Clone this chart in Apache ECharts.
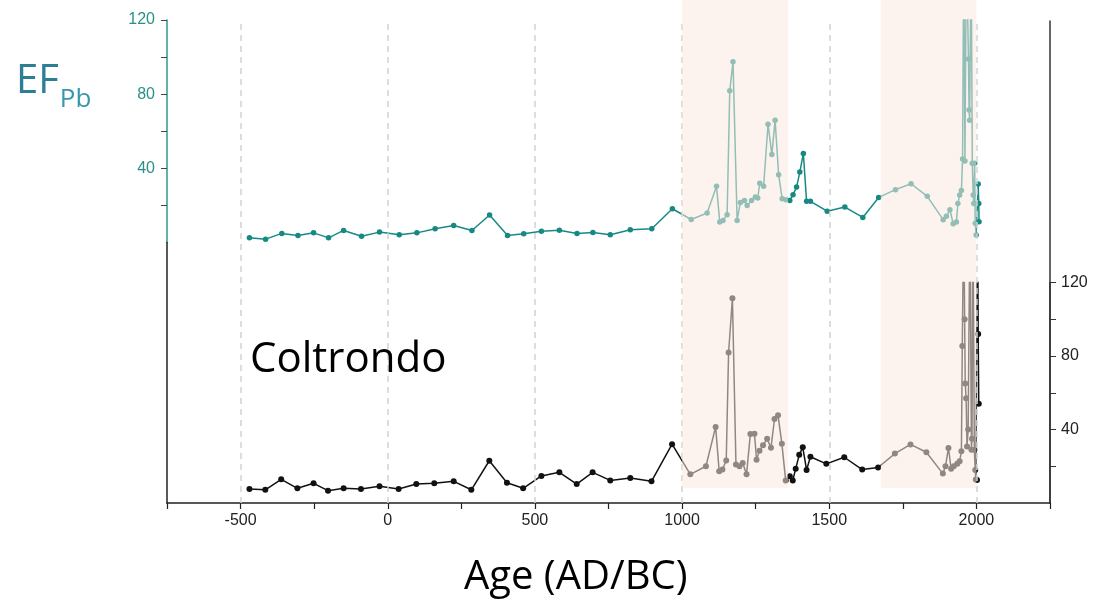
<!DOCTYPE html>
<html style="height: 100%">
<head>
    <meta charset="utf-8">
</head>
<body style="height: 100%; margin: 0; background: #fff">
<div id="container" style="width: 1095px; height: 599px"></div>

<script type="text/javascript" src="https://cdn.jsdelivr.net/npm/echarts@6/dist/echarts.min.js"></script>
<script type="text/javascript">
    // EF(Pb) upper panel (teal), years AD/BC
    var tealYears = [-470, -415, -360, -305, -252, -201, -150, -89, -28, 39, 99, 161, 224, 286, 346, 407, 462, 522, 583, 643,
        697, 756, 824, 897, 967, 1031, 1085, 1117, 1128, 1139, 1153, 1162, 1173, 1187, 1198, 1212, 1221, 1236, 1249, 1257,
        1264, 1277, 1292, 1305, 1316, 1328, 1340, 1353, 1366, 1377, 1389, 1400, 1412, 1423, 1436, 1493, 1553, 1614, 1668,
        1725, 1778, 1833, 1887, 1898, 1910, 1921, 1932, 1937, 1943, 1949, 1953, 1957, 1961, 1966, 1973, 1975, 1977, 1982,
        1986, 1989, 1991, 1994, 1996, 1999, 2006, 2008, 2009];
    var tealValues = [2.5, 1.8, 4.9, 3.8, 5.2, 2.5, 6.5, 3.4, 5.6, 4.2, 5.2, 7.4, 9.2, 6.5, 14.8, 3.8, 4.7, 6.1, 6.6, 4.9,
        5.4, 4.2, 6.9, 7.4, 18.2, 12.4, 15.9, 30.3, 11, 11.9, 15, 81.8, 97.5, 11.9, 21.6, 22.7, 20, 22.7, 24.5, 24,
        32, 30.3, 63.8, 47.4, 66, 36.6, 23.6, 23.1, 22.7, 25.8, 29.9, 38, 48, 22.2, 22.2, 16.9, 19.1, 13.5, 24.3,
        28.5, 31.7, 24.9, 12.3, 14.1, 17.7, 10.1, 11, 21, 25.6, 28, 45, 160, 44, 160, 99, 71.5, 66, 160,
        42.7, 25.6, 21, 42.7, 10.4, 4, 31.6, 21, 11.2];

    // lower panel (black)
    var blackYears = [-470, -416, -362, -307, -252, -203, -150, -91, -28, 37, 97, 158, 224, 284, 345, 405, 460, 522, 583, 642,
        696, 756, 824, 896, 966, 1028, 1081, 1114, 1126, 1137, 1150, 1158, 1171, 1183, 1195, 1206, 1219, 1232, 1246, 1253,
        1263, 1275, 1289, 1302, 1314, 1326, 1339, 1352, 1366, 1376, 1386, 1398, 1410, 1423, 1436, 1490, 1551, 1612, 1666,
        1723, 1776, 1830, 1886, 1895, 1905, 1914, 1923, 1935, 1943, 1949, 1952, 1957, 1960, 1962, 1965, 1968, 1972, 1978,
        1983, 1985, 1988, 1993, 1996, 1998, 2002, 2004, 2006, 2008];
    var blackValues = [7.6, 7.2, 12.9, 8, 10.7, 6.7, 8, 7.6, 9.1, 7.6, 10.3, 10.7, 11.8, 7.2, 23, 11, 8, 14.7, 16.7, 10.3,
        16.7, 12.3, 13.6, 11.8, 32, 15.6, 20, 41.4, 17.3, 18.2, 23.1, 81.9, 111.4, 20.9, 20, 21.8, 15.6, 37.6, 37.7, 23.6,
        28.5, 31.4, 34.9, 30.1, 45.7, 47.7, 32.3, 12.2, 14.5, 12.2, 18.7, 26.2, 30.3, 18, 25.2, 21.3, 24.9, 18.2, 19.3,
        26.9, 31.9, 27.6, 16, 20, 30, 18.6, 20, 21.3, 22.7, 28.1, 85.5, 160, 100, 65, 57, 30.8, 40, 160,
        29, 35, 160, 29, 18, 12.8, 12.5, 160, 92, 54];

    var shadedPeriods = [[1000, 1360], [1675, 2000]];
    var gridYears = [-500, 0, 500, 1000, 1500, 2000];
    var yTicks = [20, 40, 60, 80, 100, 120];
    var yLabels = [40, 80, 120];

    var teal = '#168a82';
    var dom = document.getElementById('container');
    var myChart = echarts.init(dom);

    function pairs(xs, ys) {
        return xs.map(function (x, i) { return [x, ys[i]]; });
    }

    function hiddenX(gridIndex) {
        return { type: 'value', gridIndex: gridIndex, min: -750, max: 2250, show: false };
    }

    function lineOnlyY(gridIndex, position, color) {
        return {
            type: 'value', gridIndex: gridIndex, min: 0, max: 1, position: position,
            axisLine: { show: true, onZero: false, lineStyle: { color: color, width: 1.5 } },
            axisTick: { show: false }, axisLabel: { show: false }, splitLine: { show: false }
        };
    }

    var option = {
        animation: false,
        backgroundColor: '#fff',
        title: [
            {
                text: '{a|EF}{b|Pb}',
                left: 11, top: 45,
                textStyle: {
                    rich: {
                        a: { fontFamily: 'Open Sans', fontWeight: 'normal', fontSize: 40, color: '#2e7f96' },
                        b: { fontFamily: 'Open Sans', fontWeight: 'normal', fontSize: 26, color: '#3896ad', padding: [37, 0, 0, 1] }
                    }
                }
            },
            {
                text: 'Coltrondo',
                left: 245, top: 334,
                textStyle: { fontFamily: 'Open Sans', fontSize: 42, fontWeight: 'normal', color: '#000' }
            },
            {
                text: 'Age (AD/BC)',
                left: 459, top: 553,
                textStyle: { fontFamily: 'Open Sans', fontSize: 40, fontWeight: 'normal', color: '#000' }
            }
        ],
        grid: [
            { left: 167, right: 45, top: 20, height: 222.5 },
            { left: 167, right: 45, top: 282.5, bottom: 96 },
            { left: 167, right: 45, top: 21, bottom: 96 },
            { left: 167, right: 45, top: 242.5, bottom: 96 },
            { left: 167, right: 45, top: 0, height: 488 }
        ],
        xAxis: [
            hiddenX(0),
            {
                type: 'value', gridIndex: 1, min: -750, max: 2250, interval: 250,
                axisLine: { onZero: false, lineStyle: { color: '#222', width: 1.5 } },
                axisTick: { length: 6, lineStyle: { color: '#222', width: 1.2 } },
                axisLabel: {
                    margin: 10, fontFamily: 'Liberation Sans', fontSize: 16, color: '#222',
                    formatter: function (v) { return v % 500 === 0 ? String(v) : ''; }
                },
                splitLine: { show: false }
            },
            hiddenX(2),
            hiddenX(3),
            hiddenX(4)
        ],
        yAxis: [
            {
                type: 'value', gridIndex: 0, min: 0, max: 120, interval: 20, position: 'left',
                axisLine: { show: true, onZero: false, lineStyle: { color: '#2a9a90', width: 1.5 } },
                axisTick: { show: true, length: 6, customValues: yTicks, lineStyle: { color: '#444', width: 1 } },
                axisLabel: { margin: 12, fontFamily: 'Liberation Sans', fontSize: 16, color: '#2a9088', customValues: yLabels },
                splitLine: { show: false }
            },
            {
                type: 'value', gridIndex: 1, min: 0, max: 120, interval: 20, position: 'right',
                axisLine: { show: true, onZero: false, lineStyle: { color: '#333', width: 1.5 } },
                axisTick: { show: true, length: 6, customValues: yTicks, lineStyle: { color: '#333', width: 1 } },
                axisLabel: { margin: 11, fontFamily: 'Liberation Sans', fontSize: 16, color: '#222', customValues: yLabels },
                splitLine: { show: false }
            },
            lineOnlyY(2, 'right', '#333'),
            lineOnlyY(3, 'left', '#222'),
            { type: 'value', gridIndex: 4, min: 0, max: 1, show: false }
        ],
        series: [
            {
                name: 'grid lines', type: 'line', xAxisIndex: 2, yAxisIndex: 2, data: [], silent: true, z: 1,
                markLine: {
                    silent: true, symbol: ['none', 'none'], label: { show: false },
                    lineStyle: { color: '#d2d2d2', width: 1.5, type: [6, 5] },
                    data: gridYears.map(function (y) { return { xAxis: y }; })
                }
            },
            {
                name: 'EF Pb', type: 'line', xAxisIndex: 0, yAxisIndex: 0, z: 3,
                data: pairs(tealYears, tealValues),
                symbol: 'circle', symbolSize: 5.5,
                lineStyle: { color: teal, width: 1.5 },
                itemStyle: { color: teal }
            },
            {
                name: 'Coltrondo', type: 'line', xAxisIndex: 1, yAxisIndex: 1, z: 3,
                data: pairs(blackYears, blackValues),
                symbol: 'circle', symbolSize: 6,
                lineStyle: { color: '#111', width: 1.5 },
                itemStyle: { color: '#111' }
            },
            {
                name: 'periods', type: 'line', xAxisIndex: 4, yAxisIndex: 4, data: [], silent: true, z: 10,
                markArea: {
                    silent: true, z: 10,
                    itemStyle: { color: 'rgba(250, 233, 224, 0.55)' },
                    data: shadedPeriods.map(function (p) { return [{ xAxis: p[0] }, { xAxis: p[1] }]; })
                }
            }
        ]
    };

    myChart.setOption(option);
</script>
</body>
</html>
